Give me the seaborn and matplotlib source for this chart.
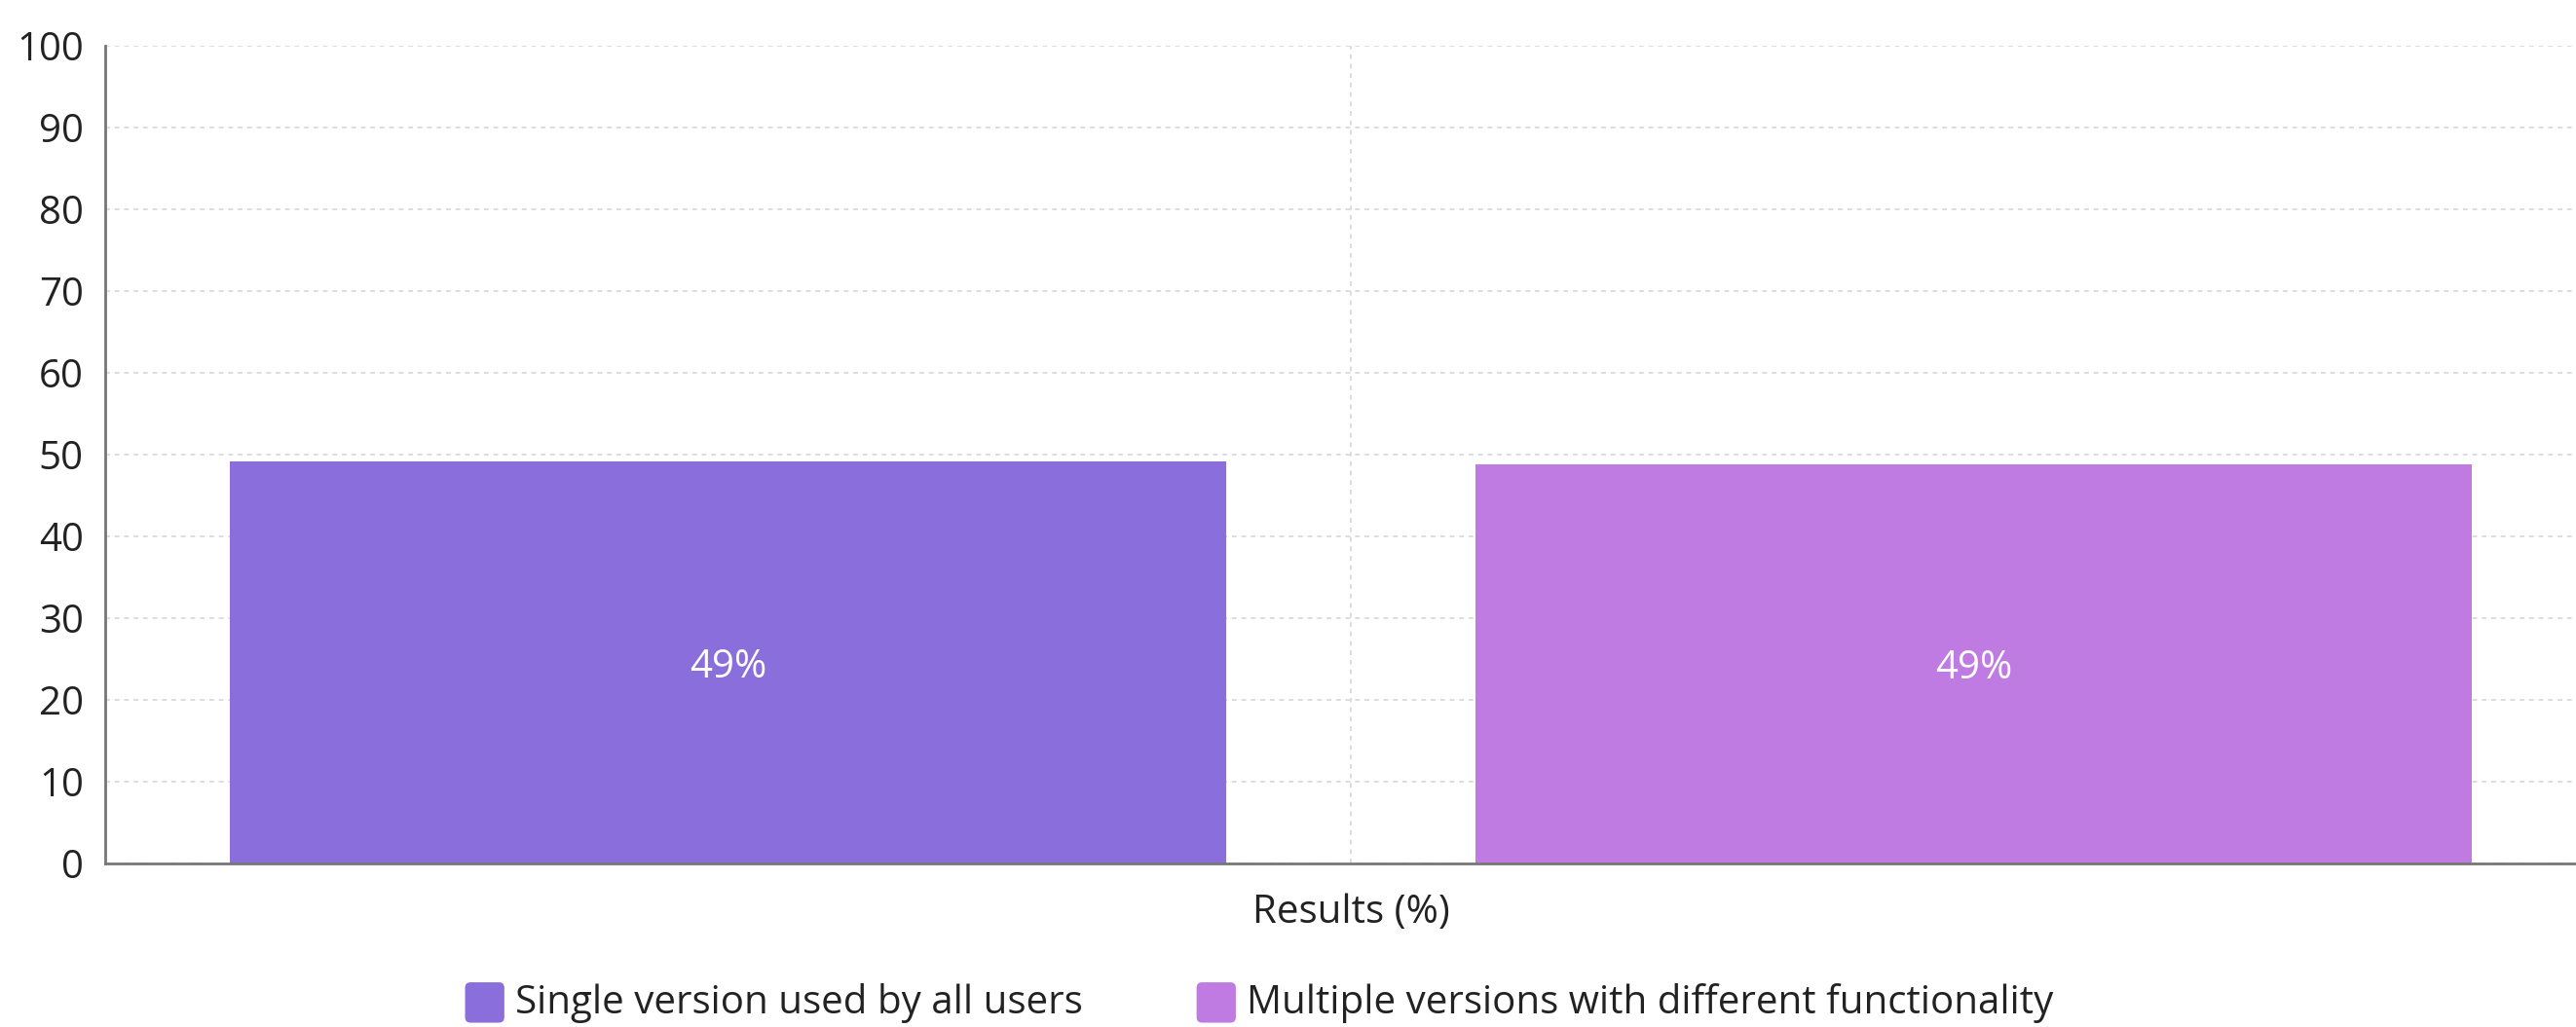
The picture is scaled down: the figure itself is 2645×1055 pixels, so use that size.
import pandas as pd
import matplotlib.pyplot as plt
import seaborn as sns
from matplotlib.patches import FancyBboxPatch, Rectangle
from matplotlib.legend_handler import HandlerPatch

# Data
categories = ["Results (%)"]
groups = ["Single version used by all users", "Multiple versions with different functionality"]
values = [49.2, 48.8]
colors = ["#896EDC", "#BF7BE2"]
y_ticks = [0, 10, 20, 30, 40, 50, 60, 70, 80, 90, 100]

df = pd.DataFrame({
    "category": categories * len(groups),
    "group": groups,
    "value": values,
})

sns.set_style("white")
plt.rcParams["font.family"] = ["Open Sans", "DejaVu Sans"]

fig = plt.figure(figsize=(26.45, 10.55), dpi=100)
ax = fig.add_axes([108 / 2645, 168 / 1055, 2558 / 2645, 840 / 1055])

sns.barplot(data=df, x="category", y="value", hue="group", palette=colors,
            width=1.0, gap=0.2, saturation=1, linewidth=0, errorbar=None,
            legend=False, ax=ax)

# value labels in the middle of each bar
for cont, v in zip(ax.containers, values):
    txts = ax.bar_label(cont, labels=[f"{round(v)}%"], label_type="center",
                        color="white", fontsize=29)
    for t in txts:
        t.set_va("center_baseline")

ax.set_xlim(-0.5, 0.5)
ax.set_ylim(0, 100)
ax.set_yticks(y_ticks)
ax.set_xlabel("")
ax.set_ylabel("")

ax.set_axisbelow(True)
ax.grid(True, axis="both", color="#dddddd", linewidth=1.4, linestyle=(0, (2.5, 2.5)))

for s in ["top", "right"]:
    ax.spines[s].set_visible(False)
for s in ["left", "bottom"]:
    ax.spines[s].set_color("#777777")
    ax.spines[s].set_linewidth(2)

ax.tick_params(axis="y", length=9, width=2, color="#777777", pad=7,
               labelsize=29, labelcolor="#222222")
ax.tick_params(axis="x", length=8, width=0.8, color="#444444", pad=14,
               labelsize=29, labelcolor="#222222")


class RoundHandler(HandlerPatch):
    def create_artists(self, legend, orig_handle, xdescent, ydescent,
                       width, height, fontsize, trans):
        p = FancyBboxPatch((-xdescent, -ydescent - 0.15 * height), width, height * 1.15,
                           boxstyle="round,pad=0,rounding_size=4",
                           facecolor=orig_handle.get_facecolor(),
                           edgecolor="none", transform=trans)
        return [p]


handles = [Rectangle((0, 0), 1, 1, facecolor=c) for c in colors]
fig.legend(handles, groups, loc="center", bbox_to_anchor=(1293 / 2645, 25 / 1055),
           ncol=2, frameon=False, fontsize=29, handlelength=1.0, handleheight=1.0,
           handletextpad=0.28, columnspacing=2.9, labelcolor="#222222",
           handler_map={Rectangle: RoundHandler()})

plt.savefig("out.png", dpi=100)
